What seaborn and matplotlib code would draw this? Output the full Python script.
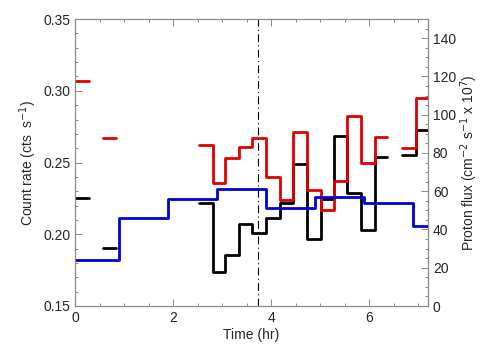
"""
Count rate and proton flux versus time
"""
import numpy as np
import pandas as pd
import matplotlib
matplotlib.use("Agg")
import matplotlib.pyplot as plt
from matplotlib.ticker import MultipleLocator
import seaborn as sns

sns.set_style("ticks")
plt.rcParams["font.family"] = ["Liberation Sans", "DejaVu Sans"]

# time bins (hr) for the count-rate curves, one list per contiguous stretch
rate_edges = [
    [0.0, 0.29],
    [0.57, 0.84],
    [2.52, 2.81, 3.06, 3.34, 3.62, 3.90, 4.18, 4.45, 4.74, 5.01, 5.28, 5.55, 5.83, 6.12, 6.37],
    [6.68, 6.95, 7.2],
]
red_rate = [
    [0.307],
    [0.267],
    [0.262, 0.236, 0.253, 0.261, 0.267, 0.240, 0.224, 0.2715, 0.231, 0.217, 0.237, 0.2825, 0.250, 0.268],
    [0.260, 0.295],
]
black_rate = [
    [0.2255],
    [0.1905],
    [0.222, 0.1735, 0.1855, 0.207, 0.201, 0.2115, 0.2215, 0.249, 0.197, 0.2245, 0.2685, 0.229, 0.203, 0.254],
    [0.2555, 0.2725],
]

# proton flux (right axis)
flux_edges = [0.0, 0.9, 1.9, 2.9, 3.9, 4.9, 5.9, 6.9, 7.2]
flux = [24, 46, 56, 61, 51, 57, 54, 42]

t_mark = 3.74


def step_frame(edges_list, values_list):
    rows = []
    for seg, (edges, vals) in enumerate(zip(edges_list, values_list)):
        yy = list(vals) + [vals[-1]]
        for x, y in zip(edges, yy):
            rows.append({"t": x, "v": y, "seg": seg})
    return pd.DataFrame(rows)


red_df = step_frame(rate_edges, red_rate)
black_df = step_frame(rate_edges, black_rate)
flux_df = step_frame([flux_edges], [flux])

fig = plt.figure(figsize=(5.04, 3.6), dpi=100)
ax = fig.add_axes([0.149, 0.15, 0.700, 0.797])
ax2 = ax.twinx()

sns.lineplot(data=black_df, x="t", y="v", units="seg", estimator=None,
             drawstyle="steps-post", color="black", lw=2, ax=ax)
sns.lineplot(data=red_df, x="t", y="v", units="seg", estimator=None,
             drawstyle="steps-post", color="#e00000", lw=2, ax=ax)
sns.lineplot(data=flux_df, x="t", y="v", units="seg", estimator=None,
             drawstyle="steps-post", color="#0000dd", lw=2, ax=ax2)

ax.axvline(t_mark, color="black", lw=0.8, linestyle=(0, (7, 3, 1, 3)))

ax.set_xlim(0, 7.2)
ax.set_ylim(0.15, 0.35)
ax2.set_ylim(0, 150)

ax.xaxis.set_major_locator(MultipleLocator(2))
ax.xaxis.set_minor_locator(MultipleLocator(0.5))
ax.yaxis.set_major_locator(MultipleLocator(0.05))
ax.yaxis.set_minor_locator(MultipleLocator(0.01))
ax.yaxis.set_major_formatter(matplotlib.ticker.FormatStrFormatter("%.2f"))
ax2.yaxis.set_major_locator(MultipleLocator(20))
ax2.yaxis.set_minor_locator(MultipleLocator(5))

for a in (ax, ax2):
    for sp in a.spines.values():
        sp.set_visible(True)
        sp.set_color("#8a8a8a")
        sp.set_linewidth(0.8)
    a.tick_params(which="both", direction="in", color="#8a8a8a", labelsize=10,
                  width=0.7)
    a.tick_params(which="major", length=5)
    a.tick_params(which="minor", length=2.5)
ax.tick_params(axis="x", which="both", top=True)
ax.tick_params(axis="y", which="both", right=False)
ax2.tick_params(axis="y", which="both", left=False)

ax.set_xlabel("Time (hr)", fontsize=10, labelpad=2)
ax.set_ylabel("Count rate (cts  s$^{-1}$)", fontsize=10, labelpad=3)
ax2.set_ylabel("Proton flux (cm$^{-2}$ s$^{-1}$ x 10$^{7}$)", fontsize=10, labelpad=2)

fig.savefig("out.png", dpi=100)
